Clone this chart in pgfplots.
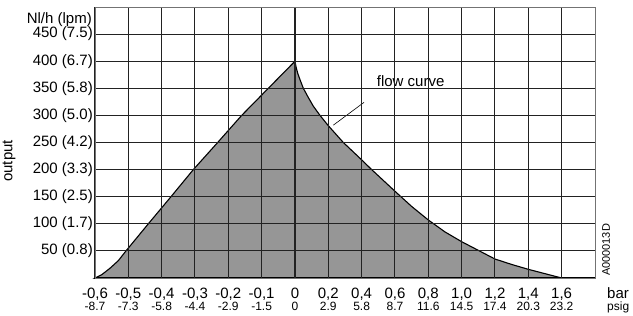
\documentclass[border=0pt]{standalone}
\usepackage{pgfplots}
\pgfplotsset{compat=1.18}
\usepackage{fontspec}
\setmainfont{Liberation Sans}
\definecolor{fillgray}{HTML}{969696}
\definecolor{gridc}{HTML}{222222}
\newcommand\mainf{\fontsize{15}{17}\selectfont}
\newcommand\subf{\fontsize{12}{14}\selectfont}
\begin{document}
\begin{tikzpicture}
\useasboundingbox (-95pt,-38pt) rectangle (538pt,278pt);
\begin{axis}[
  at={(0pt,0pt)}, anchor=south west,
  scale only axis, width=500pt, height=271pt,
  xmin=-6, xmax=9, ymin=0, ymax=500,
  xtick={-6,-5,...,8},
  xticklabels={{-0,6},{-0,5},{-0,4},{-0,3},{-0,2},{-0,1},{0},{0,2},{0,4},{0,6},{0,8},{1,0},{1,2},{1,4},{1,6}},
  xticklabel style={font=\mainf, anchor=base, yshift=-20pt, inner sep=0pt},
  extra x ticks={-6,-5,...,8},
  extra x tick labels={{-8.7},{-7.3},{-5.8},{-4.4},{-2.9},{-1.5},{0},{2.9},{5.8},{8.7},{11.6},{14.5},{17.4},{20.3},{23.2}},
  extra x tick style={grid=none, major tick length=0pt, xticklabel style={font=\subf, yshift=-12.5pt}},
  ytick={50,100,...,450},
  yticklabels={50 (0.8),100 (1.7),150 (2.5),200 (3.3),250 (4.2),300 (5.0),350 (5.8),400 (6.7),450 (7.5)},
  yticklabel style={font=\mainf, inner xsep=0pt, xshift=-2pt},
  major tick length=0pt,
  grid=major,
  major grid style={draw=gridc, line width=1pt},
  axis line style={draw=gray!90!black, line width=0.8pt},
  axis on top,
  clip=false,
]
\addplot[fill=fillgray, draw=black, line width=1.1pt] coordinates {
  (-6,0) (-5.8,6) (-5.55,18) (-5.3,32) (-5.07,50)
  (-4.4,100) (-3.72,150) (-3.05,200) (-2.32,250) (-1.6,300) (-0.8,350) (0,400)
  (0.03,390) (0.08,378) (0.15,366) (0.25,350) (0.4,333) (0.55,317) (0.75,300)
  (1.0,281) (1.45,250)
  (2.0,218) (2.3,200) (2.65,180) (3.0,160) (3.5,132) (4.0,107) (4.5,85) (5.0,67)
  (5.5,51) (6.0,35) (6.5,25) (7.0,16) (7.5,8) (8,0)
} -- cycle;
\draw[black, line width=1.4pt] (axis cs:-6,500) -- (axis cs:-6,0) -- (axis cs:9,0);
\draw[gridc, line width=2.2pt] (axis cs:0,0) -- (axis cs:0,500);
\draw[black, line width=0.6pt] (axis cs:1.15,282) -- (axis cs:2.07,324);
\node[fill=white, inner sep=1pt, anchor=south, font=\mainf] at (axis cs:3.47,350) {flow curve};
\node[anchor=base east, font=\mainf, inner sep=0pt] at ([xshift=-3pt,yshift=-16pt]rel axis cs:0,1) {Nl/h (lpm)};
\node[rotate=90, font=\mainf, inner sep=0pt] at ([xshift=-86pt]rel axis cs:0,0.432) {output};
\node[anchor=base west, font=\mainf, inner sep=0pt] at ([xshift=12pt,yshift=-20pt]rel axis cs:1,0) {bar};
\node[anchor=base west, font=\subf, inner sep=0pt] at ([xshift=12pt,yshift=-32.5pt]rel axis cs:1,0) {psig};
\node[rotate=90, font=\fontsize{11}{12}\selectfont, inner sep=0pt] at ([xshift=11pt,yshift=28pt]rel axis cs:1,0) {A000013D};
\end{axis}
\end{tikzpicture}
\end{document}
